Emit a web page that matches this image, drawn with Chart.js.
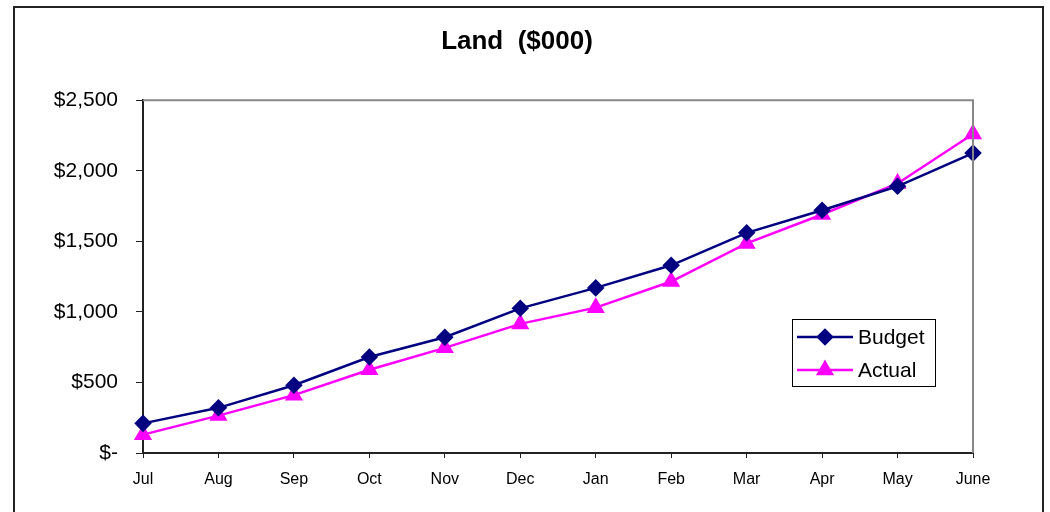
<!DOCTYPE html>
<html>
<head>
<meta charset="utf-8">
<script src="https://cdn.jsdelivr.net/npm/chart.js@4"></script>
<style>
  html, body { margin: 0; padding: 0; background: #fff; overflow: hidden; }
  #wrap { position: relative; width: 1050px; height: 512px; }
  #frame { position: absolute; left: 13px; top: 6px; width: 1031px; height: 520px;
           border: 2px solid #222; box-sizing: border-box; pointer-events: none; }
</style>
</head>
<body>
<div id="wrap">
  <canvas id="canvas" width="1050" height="512"></canvas>
  <div id="frame"></div>
</div>
<script>
const months = ["Jul", "Aug", "Sep", "Oct", "Nov", "Dec", "Jan", "Feb", "Mar", "Apr", "May", "June"];
const budget = [210, 320, 480, 680, 820, 1025, 1170, 1330, 1560, 1720, 1890, 2125];
const actual = [130, 265, 410, 590, 745, 915, 1030, 1215, 1485, 1690, 1910, 2260];
const yTicks = [0, 500, 1000, 1500, 2000, 2500];

const canvas = document.getElementById("canvas");
const ctx = canvas.getContext("2d");

const FONT = "'Liberation Sans', Arial, sans-serif";
const fmt = (v) => v === 0 ? "$-" : "$" + v.toLocaleString("en-US");

// gray top/right frame of the plot area
const plotFrame = {
  id: "plotFrame",
  afterDatasetsDraw(chart) {
    const { left, right, top, bottom } = chart.chartArea;
    const c = chart.ctx;
    c.save();
    c.strokeStyle = "#888";
    c.lineWidth = 2;
    c.beginPath();
    c.moveTo(left, top);
    c.lineTo(right, top);
    c.lineTo(right, bottom);
    c.stroke();
    c.restore();
  }
};

// legend box sitting inside the plot
const boxLegend = {
  id: "boxLegend",
  afterDraw(chart) {
    const c = chart.ctx;
    const x0 = 792, y0 = 319, w = 143, h = 67;
    c.save();
    c.fillStyle = "#fff";
    c.fillRect(x0, y0, w, h);
    c.strokeStyle = "#000";
    c.lineWidth = 1;
    c.strokeRect(x0 + 0.5, y0 + 0.5, w, h);
    chart.data.datasets.forEach((ds, i) => {
      const y = 337 + i * 33;
      c.strokeStyle = ds.borderColor;
      c.lineWidth = 2.5;
      c.beginPath();
      c.moveTo(797, y);
      c.lineTo(853, y);
      c.stroke();
      c.fillStyle = ds.backgroundColor;
      Chart.helpers.drawPoint(c, { pointStyle: ds.pointStyle, radius: ds.pointRadius, borderWidth: 1 }, 825, y);
      c.fill();
      c.fillStyle = "#000";
      c.font = "21px " + FONT;
      c.textBaseline = "middle";
      c.fillText(ds.label, 858, y + 1);
    });
    c.restore();
  }
};

const chart = new Chart(ctx, {
  type: "line",
  data: {
    labels: months,
    datasets: [
      {
        label: "Budget",
        data: budget,
        borderColor: "#000080",
        backgroundColor: "#000080",
        borderWidth: 2.5,
        pointStyle: "rectRot",
        pointRadius: 7,
        pointHoverRadius: 7,
        tension: 0,
      },
      {
        label: "Actual",
        data: actual,
        borderColor: "#ff00ff",
        backgroundColor: "#ff00ff",
        borderWidth: 2.5,
        pointStyle: "triangle",
        pointRadius: 8,
        pointHoverRadius: 8,
        tension: 0,
      },
    ],
  },
  options: {
    responsive: false,
    animation: false,
    layout: { padding: { left: 0, right: 16, top: 0, bottom: 0 } },
    plugins: {
      legend: { display: false },
      tooltip: { enabled: false },
      title: {
        display: true,
        text: "Land  ($000)",
        color: "#000",
        font: { family: FONT, size: 26, weight: "bold" },
        padding: { top: 26, bottom: 43 },
      },
    },
    scales: {
      x: {
        offset: false,
        grid: { drawOnChartArea: false, tickLength: 5, color: "#222", lineWidth: 1 },
        border: { color: "#222", width: 2 },
        ticks: {
          color: "#000",
          padding: 12,
          maxRotation: 0,
          font: { family: FONT, size: 16 },
        },
        afterFit: (s) => { s.height = 59; },
      },
      y: {
        min: 0,
        max: 2500,
        afterBuildTicks: (s) => { s.ticks = yTicks.map((v) => ({ value: v })); },
        grid: { drawOnChartArea: false, tickLength: 7, color: "#222", lineWidth: 1 },
        border: { color: "#222", width: 2 },
        ticks: {
          color: "#000",
          padding: 18,
          callback: (v) => fmt(v),
          font: { family: FONT, size: 21 },
        },
        afterFit: (s) => { s.width = 143; },
      },
      // empty right-hand spacer so the plot ends where the reference does
      spacer: {
        type: "linear",
        position: "right",
        display: true,
        grid: { display: false },
        border: { display: false },
        ticks: { display: false },
        afterFit: (s) => { s.width = 61; },
      },
    },
  },
  plugins: [plotFrame, boxLegend],
});
</script>
</body>
</html>
